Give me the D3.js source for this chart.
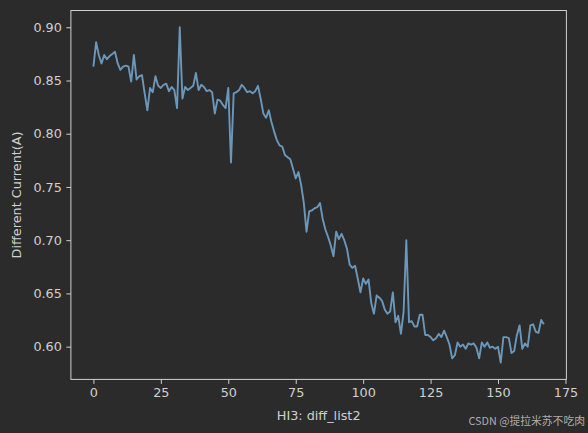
<!DOCTYPE html>
<html>
<head>
<meta charset="utf-8">
<script src="https://cdn.jsdelivr.net/npm/d3@7"></script>
<style>
  html, body { margin: 0; padding: 0; background: #2b2b2b; }
  svg { display: block; }
</style>
</head>
<body>
<div id="chart"></div>
<script>
// diff_list2 values, one per sample index 0..167
const diffList2 = [
  0.863, 0.886, 0.874, 0.866, 0.874, 0.870, 0.873, 0.875, 0.877, 0.866,
  0.860, 0.863, 0.864, 0.863, 0.849, 0.874, 0.851, 0.854, 0.855, 0.838,
  0.822, 0.843, 0.839, 0.854, 0.845, 0.843, 0.846, 0.847, 0.840, 0.844,
  0.841, 0.824, 0.900, 0.833, 0.844, 0.841, 0.843, 0.845, 0.857, 0.841,
  0.846, 0.844, 0.840, 0.841, 0.839, 0.819, 0.832, 0.831, 0.827, 0.824,
  0.843, 0.773, 0.838, 0.839, 0.841, 0.846, 0.843, 0.839, 0.840, 0.838,
  0.840, 0.845, 0.833, 0.819, 0.815, 0.822, 0.811, 0.802, 0.794, 0.789,
  0.788, 0.780, 0.778, 0.776, 0.767, 0.758, 0.764, 0.752, 0.735, 0.708,
  0.727, 0.728, 0.730, 0.731, 0.735, 0.720, 0.710, 0.703, 0.695, 0.685,
  0.708, 0.701, 0.706, 0.700, 0.692, 0.677, 0.674, 0.676, 0.664, 0.651,
  0.664, 0.659, 0.663, 0.641, 0.631, 0.648, 0.646, 0.643, 0.635, 0.631,
  0.633, 0.651, 0.623, 0.629, 0.612, 0.633, 0.700, 0.623, 0.624, 0.619,
  0.619, 0.630, 0.630, 0.611, 0.611, 0.609, 0.606, 0.608, 0.612, 0.609,
  0.615, 0.609, 0.602, 0.589, 0.592, 0.604, 0.600, 0.602, 0.598, 0.603,
  0.602, 0.603, 0.599, 0.589, 0.604, 0.600, 0.604, 0.599, 0.600, 0.598,
  0.600, 0.585, 0.609, 0.609, 0.608, 0.594, 0.596, 0.611, 0.620, 0.598,
  0.603, 0.600, 0.620, 0.621, 0.614, 0.613, 0.625, 0.621
];
const xTicks = [0, 25, 50, 75, 100, 125, 150, 175];
const yTicks = [0.60, 0.65, 0.70, 0.75, 0.80, 0.85, 0.90];
const xLabel = "HI3: diff_list2";
const yLabel = "Different Current(A)";
const watermark = "CSDN @提拉米苏不吃肉";

const W = 588, H = 433;
const margin = {top: 10.5, left: 70.9, right: 588 - 566.4, bottom: 433 - 379.4};
const width = W - margin.left - margin.right,
      height = H - margin.top - margin.bottom;

const fg = "#d0d0d0";
const font = "DejaVu Sans, sans-serif";

// matplotlib style 5% padding around the data
function padded(lo, hi) {
  const m = (hi - lo) * 0.05;
  return [lo - m, hi + m];
}

const svg = d3.select("#chart")
  .append("svg")
  .attr("width", W)
  .attr("height", H)
  .style("background", "#2b2b2b");

const g = svg.append("g")
  .attr("transform", "translate(" + margin.left + "," + margin.top + ")");

const x = d3.scaleLinear()
  .domain(padded(0, diffList2.length - 1))
  .range([0, width]);
const y = d3.scaleLinear()
  .domain(padded(d3.min(diffList2), d3.max(diffList2)))
  .range([height, 0]);

// axes
const xAxis = d3.axisBottom(x).tickValues(xTicks).tickFormat(d3.format("d"))
  .tickSizeInner(4.5).tickSizeOuter(0).tickPadding(4.5);
const yAxis = d3.axisLeft(y).tickValues(yTicks).tickFormat(d3.format(".2f"))
  .tickSizeInner(4.5).tickSizeOuter(0).tickPadding(4.5);

const gx = g.append("g")
  .attr("transform", "translate(0," + height + ")")
  .call(xAxis);
const gy = g.append("g").call(yAxis);

[gx, gy].forEach(function(a) {
  a.select(".domain").remove();
  a.selectAll(".tick line").attr("stroke", fg).attr("stroke-width", 1);
  a.selectAll(".tick text")
    .attr("fill", fg)
    .style("font-family", font)
    .style("font-size", "12.8px");
});

// frame (all four spines)
g.append("rect")
  .attr("x", 0).attr("y", 0)
  .attr("width", width).attr("height", height)
  .attr("fill", "none")
  .attr("stroke", fg)
  .attr("stroke-width", 1);

// the series
const line = d3.line()
  .x((d, i) => x(i))
  .y(d => y(d));

g.append("path")
  .datum(diffList2)
  .attr("d", line)
  .attr("fill", "none")
  .attr("stroke", "#6b98ba")
  .attr("stroke-width", 1.9)
  .attr("stroke-linejoin", "round");

// axis labels
g.append("text")
  .attr("x", width / 2)
  .attr("y", height + 41)
  .attr("text-anchor", "middle")
  .attr("fill", fg)
  .style("font-family", font)
  .style("font-size", "12.8px")
  .text(xLabel);

g.append("text")
  .attr("transform", "rotate(-90)")
  .attr("x", -height / 2)
  .attr("y", -margin.left + 21)
  .attr("text-anchor", "middle")
  .attr("fill", fg)
  .style("font-family", font)
  .style("font-size", "12.8px")
  .text(yLabel);

// watermark
svg.append("text")
  .attr("x", 585)
  .attr("y", 425)
  .attr("text-anchor", "end")
  .attr("fill", "#c8c8c8")
  .attr("fill-opacity", 0.85)
  .style("font-family", "Noto Sans CJK SC, DejaVu Sans, sans-serif")
  .style("font-size", "10.8px")
  .text(watermark);
</script>
</body>
</html>
